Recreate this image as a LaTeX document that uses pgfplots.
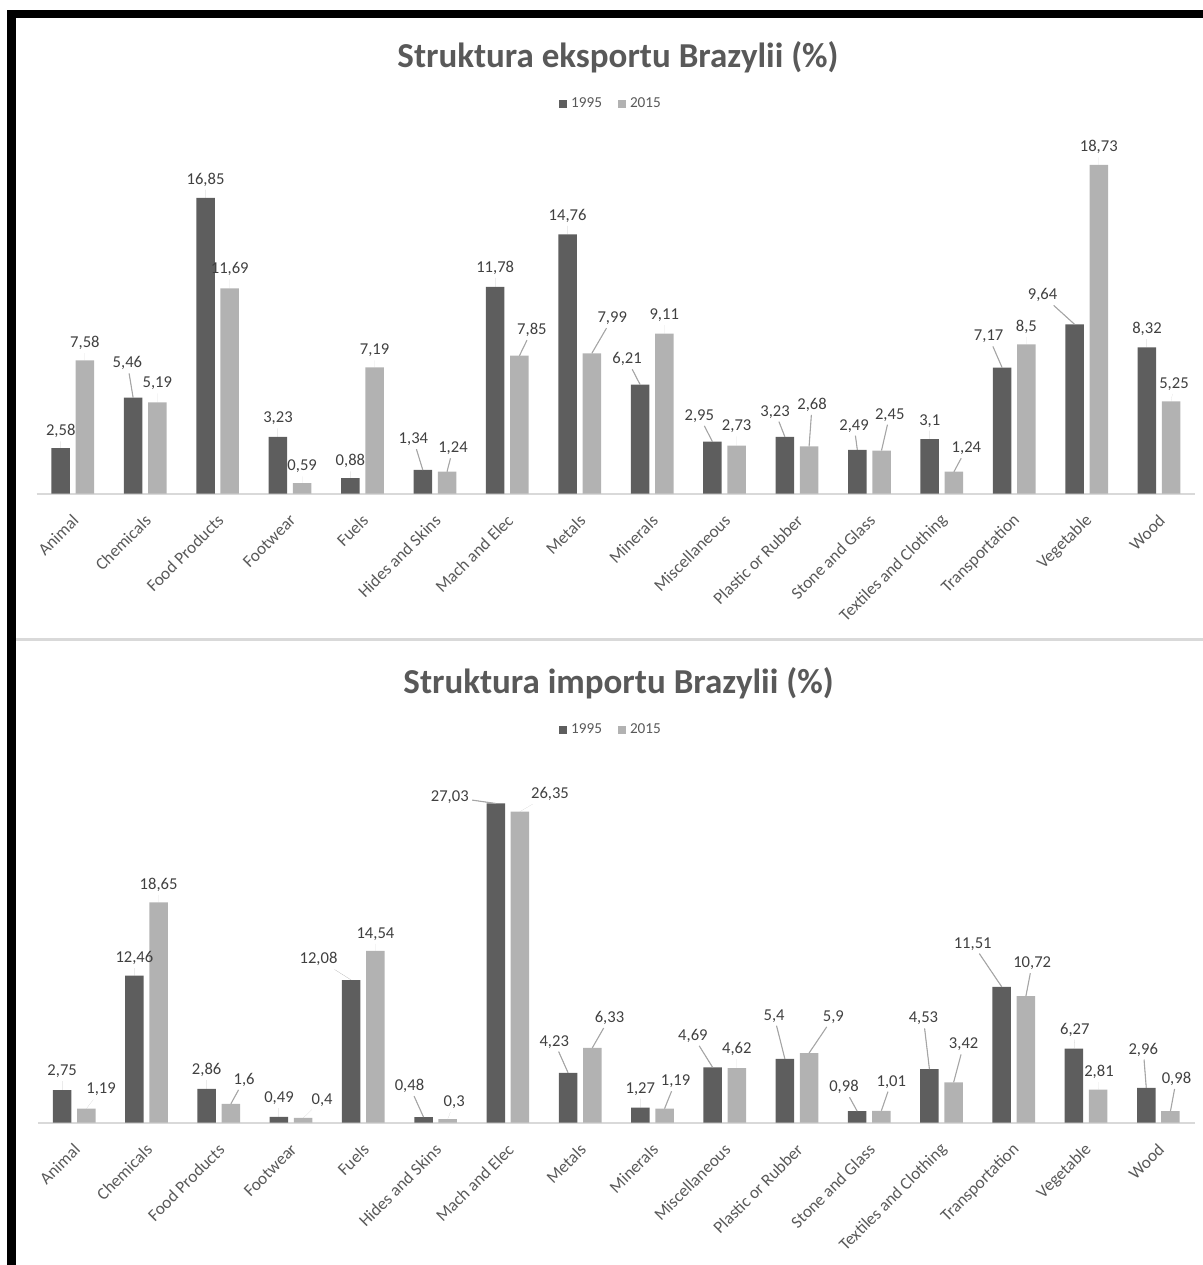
\documentclass[border=0pt]{standalone}
\usepackage{pgfplots}
\pgfplotsset{compat=1.18}
\usepackage{pgfplotstable}
\usepackage{fontspec}
\setmainfont{Carlito}
\definecolor{dark}{HTML}{5E5E5E}
\definecolor{light}{HTML}{B2B2B2}
\definecolor{txt}{HTML}{595959}
\definecolor{lbl}{HTML}{404040}
\definecolor{lead}{HTML}{A6A6A6}
\definecolor{base}{HTML}{D9D9D9}

% columns: x value label-dx(px) label-dy(px) leader-line (1 = drawn)
\pgfplotstableread{
x y sx sy L
0 2.58 0 17 0
1 5.46 -5.7 34.4 1
2 16.85 0 18.3 0
3 3.23 0 18.4 0
4 0.88 0 16.7 0
5 1.34 -9.4 30.7 1
6 11.78 0 19 0
7 14.76 0 18.6 0
8 6.21 -13 25.3 1
9 2.95 -13.2 25.7 1
10 3.23 -9.8 25 1
11 2.49 -3.2 24 1
12 3.1 0 18.3 0
13 7.17 -13.5 31 1
14 9.64 -32 29 1
15 8.32 0 18.4 0
}\expA
\pgfplotstableread{
x y sx sy L
0 7.58 0 17.5 0
1 5.19 0 19 0
2 11.69 0 19 0
3 0.59 0 16.7 0
4 7.19 0 16.7 0
5 1.24 6 23.3 1
6 7.85 12.5 25.7 1
7 7.99 20.4 35 1
8 9.11 0 18.3 0
9 2.73 0 19 0
10 2.68 3 41.7 1
11 2.45 8.2 35.7 1
12 1.24 12.5 23.3 1
13 8.5 0 17.7 0
14 18.73 0 17.6 0
15 5.25 2.8 17.4 0
}\expB
\pgfplotstableread{
x y sx sy L
0 2.75 0 19 0
1 12.46 0 17.4 0
2 2.86 0 19 0
3 0.49 0 18.7 0
4 12.08 -32.7 20.7 0
5 0.48 -14 31 1
6 27.03 -46 6.6 1
7 4.23 -13.8 31 1
8 1.27 0 19 0
9 4.69 -19.7 31.6 1
10 5.4 -10.8 43 1
11 0.98 -13.2 24 1
12 4.53 -6 50.7 1
13 11.51 -29 43 1
14 6.27 0.8 19 0
15 2.96 -3 38.3 1
}\impA
\pgfplotstableread{
x y sx sy L
0 1.19 14.7 19 0
1 18.65 0 17.7 0
2 1.6 13.2 24 1
3 0.4 19 18.3 0
4 14.54 0 17 0
5 0.3 6.5 17 0
6 26.35 30 17.4 0
7 6.33 17.2 30 1
8 1.19 11 27.3 1
9 4.62 0 19 0
10 5.9 24.3 36 1
11 1.01 10 29 1
12 3.42 10 37.7 1
13 10.72 6.3 32.7 1
14 2.81 0.8 17.3 0
15 0.98 6 32.3 1
}\impB

\pgfplotsset{
  chart/.style={
    scale only axis,
    ybar=2.85pt, bar width=9.25pt,
    xmin=-0.5, xmax=15.5, ymin=0,
    axis x line*=bottom, axis y line=none,
    x axis line style={draw=base, line width=1pt},
    xtick={0,...,15},
    xticklabels={Animal,Chemicals,Food Products,Footwear,Fuels,Hides and Skins,Mach and Elec,Metals,Minerals,Miscellaneous,Plastic or Rubber,Stone and Glass,Textiles and Clothing,Transportation,Vegetable,Wood},
    major tick length=0pt, ytick=\empty,
    xticklabel style={xshift=1.5pt, yshift=-12pt, rotate=45, anchor=east, inner sep=0pt,
      font=\fontsize{8.6}{9}\selectfont, text=txt},
    clip=false,
    legend columns=2,
    legend style={draw=none, fill=none, font=\fontsize{7.6}{8}\selectfont, text=txt,
      anchor=center, /tikz/every even column/.append style={column sep=6pt}},
    legend image code/.code={\fill[##1] (0pt,-1.8pt) rectangle (4pt,2.2pt);},
    nodes near coords={\pgfmathprintnumber[use comma,fixed,precision=2,assume math mode=true]{\pgfplotspointmeta}},
  },
  lab/.style={
    draw=none,
    visualization depends on={0.5*\thisrow{sx} \as \sx},
    visualization depends on={0.5*\thisrow{sy} \as \sy},
    visualization depends on={-0.5*(\thisrow{sx}) \as \nsx},
    visualization depends on={-0.5*(\thisrow{sy}) \as \nsy},
    visualization depends on={\thisrow{L} \as \lopa},
    every node near coord/.append style={anchor=center, xshift=\sx pt, yshift=\sy pt,
      font=\fontsize{8.3}{9}\selectfont, text=lbl, inner sep=1.5pt,
      append after command={(\tikzlastnode) edge[draw=lead, draw opacity=\lopa, line width=0.55pt] ([xshift=\nsx pt, yshift=\nsy pt]\tikzlastnode.center)}},
  },
}

\begin{document}
\begin{tikzpicture}
\begin{scope}[x=0.5pt,y=-0.5pt]
  \path[use as bounding box] (0,0) rectangle (1203,1265);
  \fill[black] (7,10) rectangle (16,1265);
  \fill[black] (7,10) rectangle (1203,18.3);
  \fill[base] (16,638) rectangle (1203,641);
  \node[font=\bfseries\fontsize{17.5}{20}\selectfont, text=txt] at (618,57) {Struktura eksportu Brazylii (\%)};
  \node[font=\bfseries\fontsize{17.5}{20}\selectfont, text=txt] at (618.5,683) {Struktura importu Brazylii (\%)};
\end{scope}

\begin{axis}[chart,
  at={(18.3pt,-246.75pt)}, anchor=south west,
  width=579.35pt, height=175.5pt, ymax=20,
  legend style={at={(0.4966,1.1097)}},
]
\addplot[lab, fill=dark] table[x=x,y=y] {\expA};
\addplot[lab, fill=light] table[x=x,y=y] {\expB};
\legend{1995,2015}
\end{axis}

\begin{axis}[chart,
  at={(19.05pt,-561.35pt)}, anchor=south west,
  width=578.2pt, height=165.35pt, ymax=28,
  legend style={at={(0.4963,1.1875)}},
]
\addplot[lab, fill=dark] table[x=x,y=y] {\impA};
\addplot[lab, fill=light] table[x=x,y=y] {\impB};
\legend{1995,2015}
\end{axis}
\end{tikzpicture}
\end{document}
